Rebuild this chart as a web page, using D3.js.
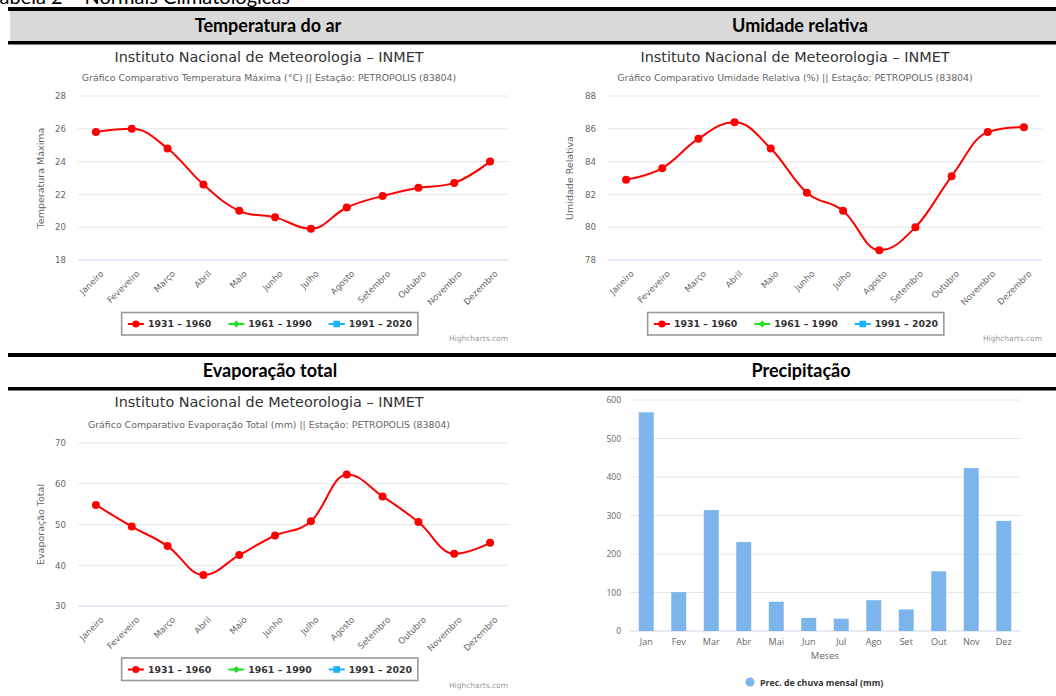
<!DOCTYPE html>
<html><head><meta charset="utf-8">
<script src="https://cdn.jsdelivr.net/npm/d3@7"></script>
<style>body{margin:0;background:#fff;overflow:hidden}svg{display:block}</style>
</head><body>
<svg id="c" width="1056" height="696"></svg>
<script>
// ---------- DATA ----------
const mesesLongos = ["Janeiro","Feveveiro","Março","Abril","Maio","Junho","Julho","Agosto","Setembro","Outubro","Novembro","Dezembro"];
const mesesCurtos = ["Jan","Fev","Mar","Abr","Mai","Jun","Jul","Ago","Set","Out","Nov","Dez"];
const temperaturaMaxima = [25.8,26.0,24.8,22.6,21.0,20.6,19.9,21.2,21.9,22.4,22.7,24.0];
const umidadeRelativa = [82.9,83.6,85.4,86.4,84.8,82.1,81.0,78.6,80.0,83.1,85.8,86.1];
const evaporacaoTotal = [54.8,49.5,44.7,37.6,42.5,47.3,50.8,62.3,56.9,50.6,42.8,45.5];
const precipitacaoMensal = [568,101,314,231,76,34,32,80,56,155,423,286];
const periodos = ["1931 – 1960","1961 – 1990","1991 – 2020"];
const ticksTemperatura = [18,20,22,24,26,28];
const ticksUmidade = [78,80,82,84,86,88];
const ticksEvaporacao = [30,40,50,60,70];
const ticksPrecipitacao = [0,100,200,300,400,500,600];
const cabecalhos = ["Temperatura do ar","Umidade relativa","Evaporação total","Precipitação"];
const tituloInmet = "Instituto Nacional de Meteorologia – INMET";
const subtitulos = [
  "Gráfico Comparativo Temperatura Máxima (°C) || Estação: PETROPOLIS (83804)",
  "Gráfico Comparativo Umidade Relativa (%) || Estação: PETROPOLIS (83804)",
  "Gráfico Comparativo Evaporação Total (mm) || Estação: PETROPOLIS (83804)"
];
const titulosEixoY = ["Temperatura Máxima","Umidade Relativa","Evaporação Total"];
const legendaPrecipitacao = "Prec. de chuva mensal (mm)";
const tituloEixoX = "Meses";
const legenda = "Tabela 2 – Normais Climatológicas";

// ---------- STYLE ----------
const HC_FONT = "'DejaVu Sans', Verdana, sans-serif";
const serieCores = ["#ff0000","#22e022","#1ab2ff"];
const svg = d3.select("#c");

// Highcharts-like spline curve
function HCSpline(ctx){ this._context = ctx; }
HCSpline.prototype = {
  areaStart(){}, areaEnd(){},
  lineStart(){ this._p = []; },
  point(x,y){ this._p.push([+x,+y]); },
  lineEnd(){
    const p = this._p, c = this._context, s = 1.5, d = 2.5;
    if (!p.length) return;
    const rc = [];
    c.moveTo(p[0][0], p[0][1]);
    for (let i = 1; i < p.length; i++) {
      const x = p[i][0], y = p[i][1];
      let lx = x, ly = y;
      if (i < p.length - 1) {
        const px = p[i-1][0], py = p[i-1][1], nx = p[i+1][0], ny = p[i+1][1];
        lx = (s*x + px)/d; ly = (s*y + py)/d;
        let rx = (s*x + nx)/d, ry = (s*y + ny)/d, corr = 0;
        if (rx !== lx) corr = ((ry-ly)*(rx-x))/(rx-lx) + y - ry;
        ly += corr; ry += corr;
        if (ly > py && ly > y) { ly = Math.max(py,y); ry = 2*y - ly; }
        else if (ly < py && ly < y) { ly = Math.min(py,y); ry = 2*y - ly; }
        if (ry > ny && ry > y) { ry = Math.max(ny,y); ly = 2*y - ry; }
        else if (ry < ny && ry < y) { ry = Math.min(ny,y); ly = 2*y - ry; }
        rc[i] = [rx, ry];
      }
      const prev = rc[i-1] || p[i-1];
      c.bezierCurveTo(prev[0], prev[1], lx, ly, x, y);
    }
  }
};
const curveHC = ctx => new HCSpline(ctx);

// ---------- TABLE FRAME ----------
svg.append("text").attr("x", 290).attr("y", 3.5).attr("text-anchor","end")
  .attr("font-family","Lato, sans-serif").attr("font-size", 20).attr("fill","#000").text(legenda);
svg.append("rect").attr("x",8).attr("y",7).attr("width",1048).attr("height",4).attr("fill","#000");
svg.append("rect").attr("x",10).attr("y",11).attr("width",1046).attr("height",30).attr("fill","#d9d9d9");
svg.append("rect").attr("x",8).attr("y",41).attr("width",1048).attr("height",3.5).attr("fill","#000");
svg.append("rect").attr("x",8).attr("y",353).attr("width",1048).attr("height",4).attr("fill","#000");
svg.append("rect").attr("x",8).attr("y",387).attr("width",1048).attr("height",3.5).attr("fill","#000");
const headPos = [[268,32],[800,32],[270,377],[801,377]];
cabecalhos.forEach((t,i)=>{
  svg.append("text").attr("x",headPos[i][0]).attr("y",headPos[i][1]).attr("text-anchor","middle")
    .attr("font-family","Lato, sans-serif").attr("font-weight",700).attr("font-size",18)
    .attr("fill","#000").text(t);
});

// ---------- LINE CHART ----------
function lineChart(o){
  const g = svg.append("g");
  g.append("text").attr("x",o.cx).attr("y",o.titleY).attr("text-anchor","middle")
    .attr("font-family",HC_FONT).attr("font-size",14.4).attr("fill","#333").text(tituloInmet);
  g.append("text").attr("x",o.cx).attr("y",o.subY).attr("text-anchor","middle")
    .attr("font-family",HC_FONT).attr("font-size",9.4).attr("fill","#666").text(o.sub);

  const x = d3.scaleBand().domain(mesesLongos).range([o.left,o.right]);
  const y = d3.scaleLinear().domain(d3.extent(o.ticks)).range([o.bottom,o.top]);

  // grid
  g.append("g").selectAll("line").data(o.ticks.slice(1)).join("line")
    .attr("x1",o.left).attr("x2",o.right).attr("y1",d=>y(d)).attr("y2",d=>y(d))
    .attr("stroke","#e6e6e6").attr("stroke-width",1);
  g.append("line").attr("x1",o.left).attr("x2",o.right).attr("y1",y(o.ticks[0])).attr("y2",y(o.ticks[0]))
    .attr("stroke","#ccd6eb").attr("stroke-width",1);
  // y labels
  const ya = d3.axisLeft(y).tickValues(o.ticks).tickSize(0).tickPadding(0);
  const yg = g.append("g").attr("transform",`translate(${o.left-12},0)`).call(ya);
  yg.select(".domain").remove();
  yg.selectAll("text").attr("font-family",HC_FONT).attr("font-size",8.6).attr("fill","#666");
  // y title
  g.append("text").attr("transform",`translate(${o.yTitleX},${(o.top+o.bottom)/2}) rotate(-90)`)
    .attr("text-anchor","middle").attr("font-family",HC_FONT).attr("font-size",9.5).attr("fill","#666").text(o.yTitle);
  // x labels
  g.append("g").selectAll("text").data(mesesLongos).join("text")
    .attr("transform",d=>`translate(${x(d)+x.bandwidth()/2+4},${o.bottom+10}) rotate(-45)`)
    .attr("text-anchor","end").attr("dy","0.7em")
    .attr("font-family",HC_FONT).attr("font-size",8.6).attr("fill","#666").text(d=>d);
  // series
  const line = d3.line().x((d,i)=>x(mesesLongos[i])+x.bandwidth()/2).y(d=>y(d)).curve(curveHC);
  g.append("path").datum(o.values).attr("d",line).attr("fill","none")
    .attr("stroke",serieCores[0]).attr("stroke-width",2);
  g.append("g").selectAll("circle").data(o.values).join("circle")
    .attr("cx",(d,i)=>x(mesesLongos[i])+x.bandwidth()/2).attr("cy",d=>y(d)).attr("r",4)
    .attr("fill",serieCores[0]);
  // legend
  const lg = g.append("g");
  const box = lg.append("rect");
  let lx = 7;
  const gap = 17;
  const ly = o.legY + 11.5;
  periodos.forEach((p,i)=>{
    lg.append("line").attr("x1",lx).attr("x2",lx+16).attr("y1",ly).attr("y2",ly)
      .attr("stroke",serieCores[i]).attr("stroke-width",2);
    const mx = lx+8;
    if (i===0) lg.append("circle").attr("cx",mx).attr("cy",ly).attr("r",3.6).attr("fill",serieCores[i]);
    else if (i===1) lg.append("path").attr("d",`M${mx},${ly-3.5}L${mx+3.5},${ly}L${mx},${ly+3.5}L${mx-3.5},${ly}Z`).attr("fill",serieCores[i]);
    else lg.append("rect").attr("x",mx-3.3).attr("y",ly-3.3).attr("width",6.6).attr("height",6.6).attr("fill",serieCores[i]);
    const t = lg.append("text").attr("x",lx+20).attr("y",ly+3.4)
      .attr("font-family",HC_FONT).attr("font-weight",700).attr("font-size",9.4).attr("fill","#333").text(p);
    lx += 20 + t.node().getComputedTextLength() + gap;
  });
  const bw = lx - gap + 5;
  box.attr("x",0.75).attr("y",o.legY).attr("width",bw).attr("height",22.5)
    .attr("fill","#fff").attr("stroke","#999").attr("stroke-width",1.6);
  lg.attr("transform",`translate(${o.cx - bw/2},0)`);
  // credits
  g.append("text").attr("x",o.right).attr("y",o.credY).attr("text-anchor","end")
    .attr("font-family",HC_FONT).attr("font-size",7.5).attr("fill","#999").text("Highcharts.com");
}

lineChart({cx:269, titleY:62, subY:81, left:78, right:508, top:96, bottom:260, ticks:ticksTemperatura,
  values:temperaturaMaxima, sub:subtitulos[0], yTitle:titulosEixoY[0], yTitleX:44, legY:312.5, credY:341});
lineChart({cx:795, titleY:62, subY:81, left:608, right:1042, top:96, bottom:260, ticks:ticksUmidade,
  values:umidadeRelativa, sub:subtitulos[1], yTitle:titulosEixoY[1], yTitleX:573, legY:312.5, credY:341});
lineChart({cx:269, titleY:407, subY:428, left:78, right:508, top:443, bottom:606, ticks:ticksEvaporacao,
  values:evaporacaoTotal, sub:subtitulos[2], yTitle:titulosEixoY[2], yTitleX:44, legY:658, credY:688});

// ---------- BAR CHART ----------
(function(){
  const g = svg.append("g");
  const left = 630, right = 1020, top = 400, bottom = 631;
  const x = d3.scaleBand().domain(mesesCurtos).range([left,right]).paddingInner(0.54).paddingOuter(0.27);
  const y = d3.scaleLinear().domain(d3.extent(ticksPrecipitacao)).range([bottom,top]);
  g.append("g").selectAll("line").data(ticksPrecipitacao.slice(1)).join("line")
    .attr("x1",left).attr("x2",right).attr("y1",d=>y(d)).attr("y2",d=>y(d)).attr("stroke","#e6e6e6");
  g.append("line").attr("x1",left).attr("x2",right).attr("y1",y(0)).attr("y2",y(0)).attr("stroke","#ccd6eb");
  const yg = g.append("g").attr("transform",`translate(${left-9},0)`)
    .call(d3.axisLeft(y).tickValues(ticksPrecipitacao).tickSize(0).tickPadding(0));
  yg.select(".domain").remove();
  yg.selectAll("text").attr("font-family","'Open Sans', sans-serif").attr("font-size",8.5).attr("fill","#666");
  g.append("g").selectAll("rect").data(precipitacaoMensal).join("rect")
    .attr("x",(d,i)=>x(mesesCurtos[i])).attr("width",x.bandwidth())
    .attr("y",d=>y(d)).attr("height",d=>y(0)-y(d)).attr("fill","#7cb5ec");
  g.append("g").selectAll("text").data(mesesCurtos).join("text")
    .attr("x",d=>x(d)+x.bandwidth()/2).attr("y",bottom+14).attr("text-anchor","middle")
    .attr("font-family","'Open Sans', sans-serif").attr("font-size",9).attr("fill","#666").text(d=>d);
  g.append("text").attr("x",(left+right)/2).attr("y",bottom+28).attr("text-anchor","middle")
    .attr("font-family","'Open Sans', sans-serif").attr("font-size",9.5).attr("fill","#666").text(tituloEixoX);
  g.append("circle").attr("cx",750).attr("cy",682).attr("r",4.5).attr("fill","#7cb5ec");
  g.append("text").attr("x",760).attr("y",685.5)
    .attr("font-family","'Open Sans', sans-serif").attr("font-weight",700).attr("font-size",8.8).attr("fill","#333")
    .text(legendaPrecipitacao);
})();
</script>
</body></html>
